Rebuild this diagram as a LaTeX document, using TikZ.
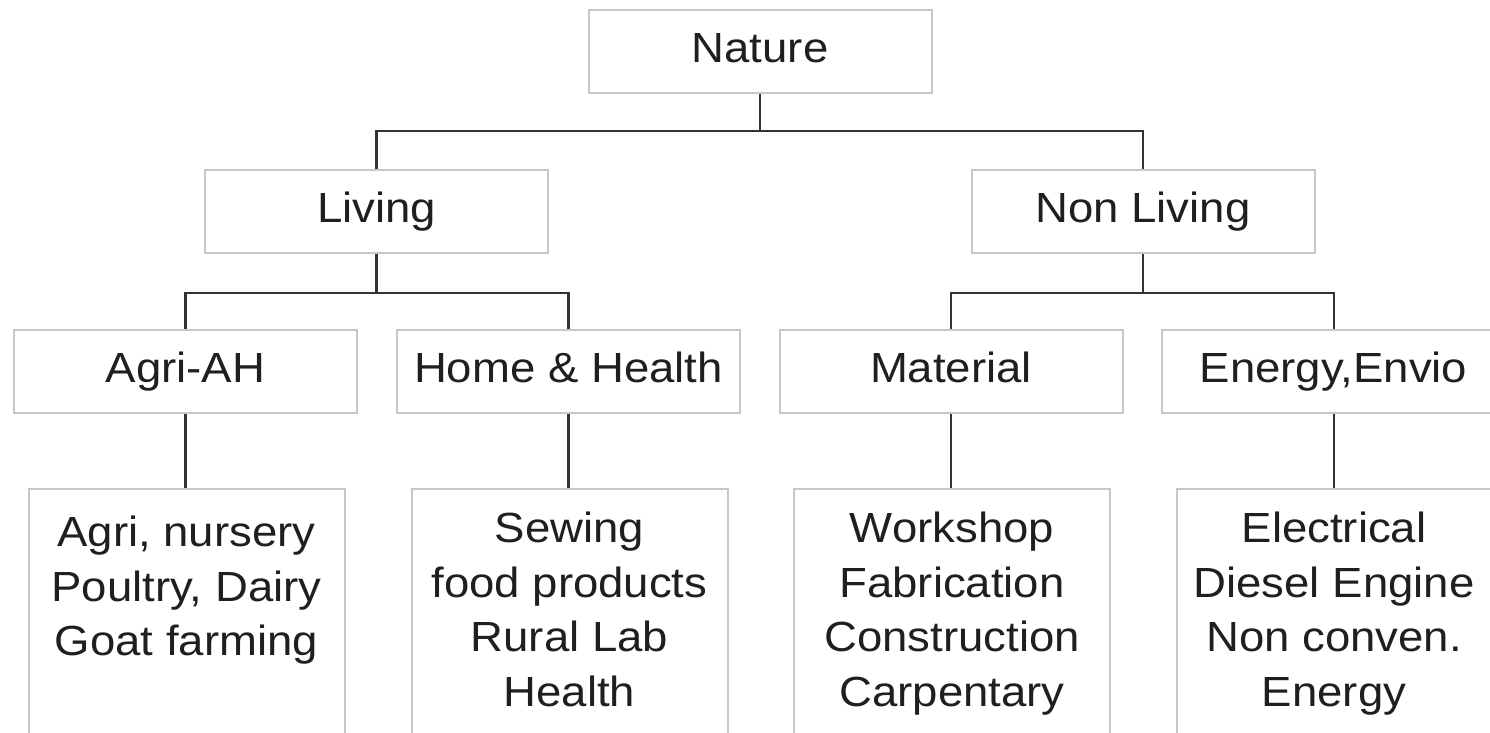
\documentclass[tikz,border=0pt]{standalone}
\usepackage{fontspec}
\setmainfont{Liberation Sans}[FakeStretch=1.08]
\newlength{\du}
\setlength{\du}{0.02cm}
\definecolor{boxline}{rgb}{0.780000, 0.780000, 0.780000}
\definecolor{linkline}{rgb}{0.200000, 0.200000, 0.200000}
\definecolor{labeltext}{rgb}{0.120000, 0.120000, 0.120000}
\tikzset{
  catbox/.style={draw=boxline, line width=2\du, fill=white, minimum width=343\du,
    minimum height=83\du, inner sep=0pt, text=labeltext,
    font=\fontsize{24}{31}\selectfont, text height=17.3pt, text depth=5pt},
  leafbox/.style={draw=boxline, line width=2\du, fill=white, minimum width=316\du,
    minimum height=280\du, anchor=north, inner sep=0pt},
  leaftext/.style={anchor=north, align=center, inner sep=0pt, text=labeltext,
    font=\fontsize{24}{31}\selectfont},
  link/.style={draw=linkline, line width=2.5\du}
}
\begin{document}
\begin{tikzpicture}
\pgftransformxscale{1.000000}
\pgftransformyscale{-1.000000}
\useasboundingbox (0\du,0\du) rectangle (1490\du,733\du);
\fill[white] (0\du,0\du) rectangle (1490\du,733\du);
\clip (0\du,0\du) rectangle (1490\du,733\du);
% top level
\node[catbox] (nature) at (760\du,51.5\du){Nature};
\node[catbox] (living) at (376.5\du,211.5\du){Living};
\node[catbox] (nonliving) at (1143\du,211.5\du){Non Living};
% second level
\node[catbox] (agri) at (185.5\du,371.5\du){Agri-AH};
\node[catbox] (home) at (568.5\du,371.5\du){Home \& Health};
\node[catbox] (material) at (951\du,371.5\du){Material};
\node[catbox, minimum width=360\du] (energy) at (1342\du,371.5\du){\hspace*{-17\du}Energy,Envio};
% leaves
\node[leafbox] (agrileaf) at (186.5\du,488\du){};
\node[leafbox] (homeleaf) at (569.5\du,488\du){};
\node[leafbox] (materialleaf) at (952\du,488\du){};
\node[leafbox] (energyleaf) at (1335\du,488\du){};
\node[leaftext] (agritext) at (186.5\du,516\du){Agri, nursery\\Poultry, Dairy\\Goat farming};
\node[leaftext] (hometext) at (569.5\du,512\du){Sewing\\food products\\Rural Lab\\Health};
\node[leaftext] (materialtext) at (952\du,512\du){Workshop\\Fabrication\\Construction\\Carpentary};
\node[leaftext] (energytext) at (1334\du,512\du){Electrical\\Diesel Engine\\Non conven.\\Energy};
% links
\draw[link] (nature.south) -- ++(0,37\du) -| (living.north);
\draw[link] (nature.south) -- ++(0,37\du) -| (nonliving.north);
\draw[link] (living.south) -- ++(0,39\du) -| (agri.north);
\draw[link] (living.south) -- ++(0,39\du) -| (home.north);
\draw[link] (nonliving.south) -- ++(0,39\du) -| (material.north);
\draw[link] (nonliving.south) -- ++(0,39\du) -| (energytext.north |- energy.north);
\draw[link] (agri.south) -- (agri.south |- agrileaf.north);
\draw[link] (home.south) -- (home.south |- homeleaf.north);
\draw[link] (material.south) -- (material.south |- materialleaf.north);
\draw[link] (energytext.north |- energy.south) -- (energytext.north |- energyleaf.north);
\end{tikzpicture}
\end{document}
